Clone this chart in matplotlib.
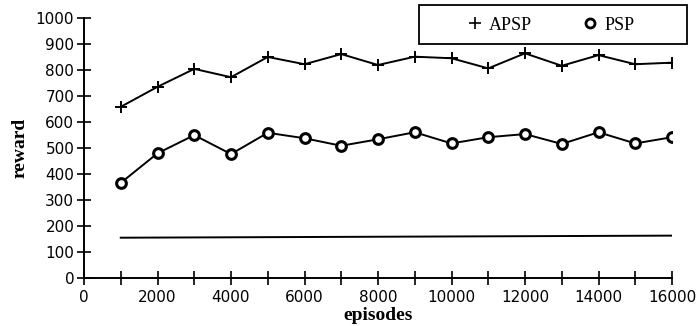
import matplotlib
matplotlib.use('Agg')
import matplotlib.pyplot as plt
from matplotlib.patches import Rectangle
from matplotlib.ticker import MultipleLocator, FuncFormatter

episodes = [1000, 2000, 3000, 4000, 5000, 6000, 7000, 8000,
            9000, 10000, 11000, 12000, 13000, 14000, 15000, 16000]
apsp = [658, 735, 804, 772, 850, 822, 861, 819,
        851, 845, 806, 864, 816, 857, 822, 828]
psp = [365, 479, 549, 476, 558, 537, 508, 533,
       560, 517, 541, 553, 515, 560, 517, 541]
base_x = [1000, 16000]
base_y = [154, 162]

fig = plt.figure(figsize=(6.98, 3.26), dpi=100)
ax = fig.add_axes([84/698, 1 - 277.7/326, (672 - 84)/698, (277.7 - 18)/326])

ax.plot(episodes, apsp, color='black', lw=1.4, marker='+', ms=9, mew=1.4)
ax.plot(episodes, psp, color='black', lw=1.4, marker='o', ms=7, mew=2.2,
        mfc='white')
ax.plot(base_x, base_y, color='black', lw=1.4)

ax.set_xlim(0, 16000)
ax.set_ylim(0, 1000)
ax.spines['top'].set_visible(False)
ax.spines['right'].set_visible(False)
for s in ('left', 'bottom'):
    ax.spines[s].set_linewidth(1.4)

ax.xaxis.set_major_locator(MultipleLocator(1000))
ax.xaxis.set_major_formatter(FuncFormatter(
    lambda v, p: '%d' % v if int(v) % 2000 == 0 else ''))
ax.yaxis.set_major_locator(MultipleLocator(100))
ax.tick_params(direction='inout', length=10, width=1.2, labelsize=11,
               pad=2)
ax.tick_params(axis='x', pad=4)

ax.set_xlabel('episodes', family='Liberation Serif', fontweight='bold',
              fontsize=14, labelpad=1)
ax.set_ylabel('reward', family='Liberation Serif', fontweight='bold',
              fontsize=14, labelpad=5)

# legend box sits partly outside the axes, so draw it in figure coords
fig.patches.append(Rectangle((419/698, 1 - 44/326), (687 - 419)/698, 39/326,
                             transform=fig.transFigure, fill=False,
                             edgecolor='black', lw=1.3))
h1, = ax.plot([], [], ls='none', color='black', marker='+', ms=9, mew=1.2)
h2, = ax.plot([], [], ls='none', color='black', marker='o', ms=6.5, mew=2,
              mfc='white')
fig.legend([h1, h2], ['APSP', 'PSP'], ncol=2,
           loc='center left', bbox_to_anchor=(455/698, 1 - 25/326),
           prop={'family': 'Liberation Serif', 'size': 13},
           frameon=False, handletextpad=0.2, columnspacing=2.6,
           borderpad=0, handlelength=1.2)

fig.savefig('out.png', dpi=100)
